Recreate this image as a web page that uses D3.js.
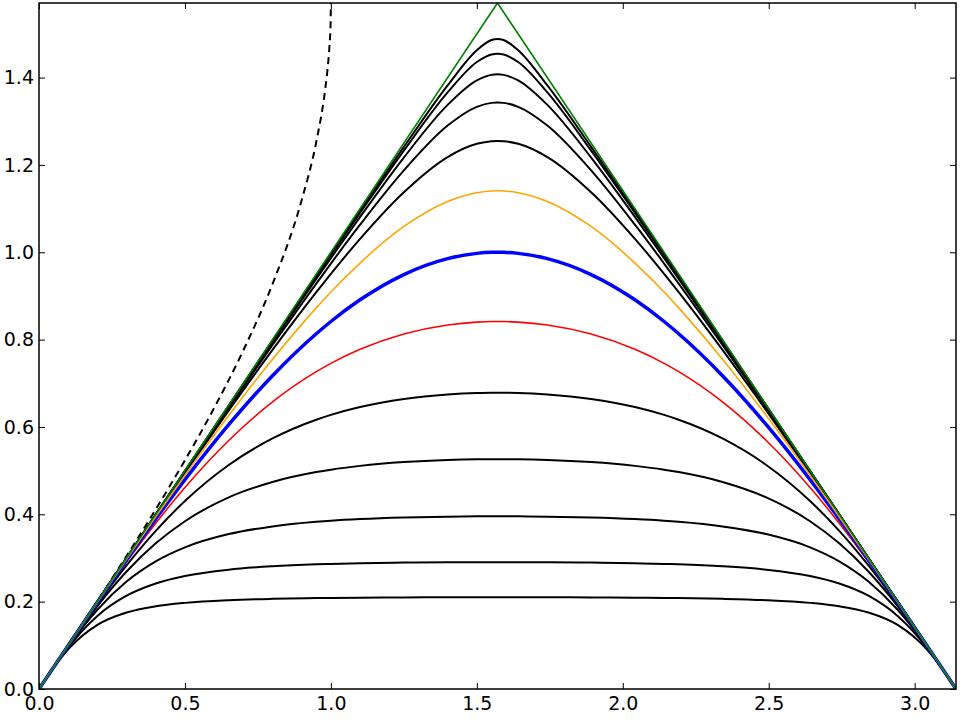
<!DOCTYPE html>
<html>
<head>
<meta charset="utf-8">
<script src="https://cdn.jsdelivr.net/npm/d3@7"></script>
<style>
  html, body { margin: 0; padding: 0; background: #fff; }
  svg { display: block; }
</style>
</head>
<body>
<div id="chart"></div>
<script>
// x sample points, 0 .. pi (symmetric about pi/2)
const xs = [0, 0.05, 0.1, 0.2, 0.3, 0.4, 0.5, 0.65, 0.8, 0.95, 1.0, 1.1, 1.25, 1.4, 1.5, 1.55, 1.5708,
  1.5916, 1.6416, 1.7416, 1.8916, 2.0416, 2.1416, 2.1916, 2.3416, 2.4916, 2.6416, 2.7416, 2.8416, 2.9416, 3.0416, 3.0916, 3.1416]

// curves under sin (black)
const sin64 = [0, 0.0487, 0.0908, 0.1467, 0.1750, 0.1894, 0.1972, 0.2034, 0.2065, 0.2082, 0.2086, 0.2092, 0.2097, 0.2100, 0.2101, 0.2101, 0.2101,
  0.2101, 0.2101, 0.2100, 0.2097, 0.2092, 0.2086, 0.2082, 0.2065, 0.2034, 0.1972, 0.1894, 0.1750, 0.1467, 0.0908, 0.0487, 0]
const sin32 = [0, 0.0493, 0.0951, 0.1673, 0.2136, 0.2417, 0.2588, 0.2733, 0.2810, 0.2854, 0.2864, 0.2879, 0.2894, 0.2902, 0.2904, 0.2904, 0.2904,
  0.2904, 0.2904, 0.2902, 0.2894, 0.2879, 0.2864, 0.2854, 0.2810, 0.2733, 0.2588, 0.2417, 0.2136, 0.1673, 0.0951, 0.0493, 0]
const sin16 = [0, 0.0497, 0.0974, 0.1815, 0.2460, 0.2922, 0.3243, 0.3547, 0.3723, 0.3827, 0.3852, 0.3890, 0.3927, 0.3947, 0.3953, 0.3954, 0.3954,
  0.3954, 0.3953, 0.3947, 0.3927, 0.3890, 0.3852, 0.3827, 0.3723, 0.3547, 0.3243, 0.2922, 0.2460, 0.1815, 0.0974, 0.0497, 0]
const sin8 = [0, 0.0498, 0.0987, 0.1900, 0.2690, 0.3335, 0.3842, 0.4387, 0.4740, 0.4967, 0.5022, 0.5109, 0.5197, 0.5245, 0.5259, 0.5261, 0.5261,
  0.5261, 0.5259, 0.5245, 0.5197, 0.5109, 0.5022, 0.4967, 0.4740, 0.4387, 0.3842, 0.3335, 0.2690, 0.1900, 0.0987, 0.0498, 0]
const sin4 = [0, 0.0499, 0.0993, 0.1948, 0.2832, 0.3622, 0.4305, 0.5130, 0.5737, 0.6166, 0.6276, 0.6455, 0.6641, 0.6745, 0.6778, 0.6784, 0.6784,
  0.6784, 0.6778, 0.6745, 0.6641, 0.6455, 0.6276, 0.6166, 0.5737, 0.5130, 0.4305, 0.3622, 0.2832, 0.1948, 0.0993, 0.0499, 0]
// red
const sin2 = [0, 0.0500, 0.0997, 0.1974, 0.2912, 0.3797, 0.4613, 0.5689, 0.6574, 0.7266, 0.7456, 0.7778, 0.8128, 0.8335, 0.8401, 0.8414, 0.8415,
  0.8414, 0.8401, 0.8335, 0.8128, 0.7778, 0.7456, 0.7266, 0.6574, 0.5689, 0.4613, 0.3797, 0.2912, 0.1974, 0.0997, 0.0500, 0]
// blue
const sin1 = [0, 0.0500, 0.0998, 0.1987, 0.2955, 0.3894, 0.4794, 0.6052, 0.7174, 0.8134, 0.8415, 0.8912, 0.9490, 0.9854, 0.9975, 0.9998, 1.0,
  0.9998, 0.9975, 0.9854, 0.9490, 0.8912, 0.8415, 0.8134, 0.7174, 0.6052, 0.4794, 0.3894, 0.2955, 0.1987, 0.0998, 0.0500, 0]
// orange
const sinHalf = [0, 0.0500, 0.0999, 0.1993, 0.2977, 0.3946, 0.4894, 0.6263, 0.7550, 0.8727, 0.9090, 0.9753, 1.0591, 1.1165, 1.1365, 1.1404, 1.1408,
  1.1404, 1.1365, 1.1165, 1.0591, 0.9753, 0.9090, 0.8727, 0.7550, 0.6263, 0.4894, 0.3946, 0.2977, 0.1993, 0.0999, 0.0500, 0]
// curves above (black)
const sinQuarter = [0, 0.0500, 0.1000, 0.1997, 0.2989, 0.3973, 0.4946, 0.6378, 0.7764, 0.9085, 0.9506, 1.0307, 1.1375, 1.2181, 1.2484, 1.2545, 1.2550,
  1.2545, 1.2484, 1.2181, 1.1375, 1.0307, 0.9506, 0.9085, 0.7764, 0.6378, 0.4946, 0.3973, 0.2989, 0.1997, 0.1000, 0.0500, 0]
const sinEighth = [0, 0.0500, 0.1000, 0.1998, 0.2994, 0.3987, 0.4973, 0.6438, 0.7879, 0.9284, 0.9742, 1.0631, 1.1875, 1.2902, 1.3331, 1.3421, 1.3429,
  1.3421, 1.3331, 1.2902, 1.1875, 1.0631, 0.9742, 0.9284, 0.7879, 0.6438, 0.4973, 0.3987, 0.2994, 0.1998, 0.1000, 0.0500, 0]
const sin16th = [0, 0.0500, 0.1000, 0.1999, 0.2997, 0.3993, 0.4987, 0.6469, 0.7939, 0.9390, 0.9867, 1.0809, 1.2169, 1.3375, 1.3936, 1.4062, 1.4075,
  1.4062, 1.3936, 1.3375, 1.2169, 1.0809, 0.9867, 0.9390, 0.7939, 0.6469, 0.4987, 0.3993, 0.2997, 0.1999, 0.1000, 0.0500, 0]
const sin32nd = [0, 0.0500, 0.1000, 0.2000, 0.2999, 0.3997, 0.4993, 0.6484, 0.7969, 0.9444, 0.9933, 1.0901, 1.2328, 1.3660, 1.4356, 1.4530, 1.4548,
  1.4530, 1.4356, 1.3660, 1.2328, 1.0901, 0.9933, 0.9444, 0.7969, 0.6484, 0.4993, 0.3997, 0.2999, 0.2000, 0.1000, 0.0500, 0]
const sin64th = [0, 0.0500, 0.1000, 0.2000, 0.2999, 0.3998, 0.4997, 0.6492, 0.7985, 0.9472, 0.9966, 1.0949, 1.2412, 1.3821, 1.4627, 1.4860, 1.4886,
  1.4860, 1.4627, 1.3821, 1.2412, 1.0949, 0.9966, 0.9472, 0.7985, 0.6492, 0.4997, 0.3998, 0.2999, 0.2000, 0.1000, 0.0500, 0]

// dashed curve (arcsin)
const dashX = [0, 0.1, 0.2, 0.3, 0.4, 0.5, 0.6, 0.7, 0.8, 0.9, 0.95, 0.98, 0.99, 0.995, 0.999, 1.0]
const dashY = [0, 0.1002, 0.2014, 0.3047, 0.4115, 0.5236, 0.6435, 0.7754, 0.9273, 1.1198, 1.2532, 1.3705, 1.4293, 1.4706, 1.5261, 1.5708]

// green triangle
const triX = [0, 1.5708, 3.1416]
const triY = [0, 1.5708, 0]

const xTicks = [0, 0.5, 1.0, 1.5, 2.0, 2.5, 3.0]
const yTicks = [0, 0.2, 0.4, 0.6, 0.8, 1.0, 1.2, 1.4]

const width = 960
const height = 720
const margin = { top: 3, right: 4, bottom: 31, left: 39 }

const svg = d3.select("#chart")
  .append("svg")
  .attr("width", width)
  .attr("height", height)
  .style("font-family", "'DejaVu Sans', sans-serif")

const x = d3.scaleLinear()
  .domain([0, Math.PI])
  .range([margin.left, width - margin.right])

const y = d3.scaleLinear()
  .domain([0, Math.PI / 2])
  .range([height - margin.bottom, margin.top])

svg.append("defs").append("clipPath")
  .attr("id", "plot-clip")
  .append("rect")
  .attr("x", margin.left)
  .attr("y", margin.top)
  .attr("width", width - margin.left - margin.right)
  .attr("height", height - margin.top - margin.bottom)

const plot = svg.append("g").attr("clip-path", "url(#plot-clip)")

const line = d3.line()
  .x(d => x(d[0]))
  .y(d => y(d[1]))
  .curve(d3.curveMonotoneX)

const pairs = (xv, yv) => xv.map((v, i) => [v, yv[i]])

const blacks = [sin64, sin32, sin16, sin8, sin4, sinQuarter, sinEighth, sin16th, sin32nd, sin64th]

plot.selectAll(".black")
  .data(blacks)
  .join("path")
  .attr("class", "black")
  .attr("fill", "none")
  .attr("stroke", "#000")
  .attr("stroke-width", 2)
  .attr("d", d => line(pairs(xs, d)))

plot.append("path")
  .attr("fill", "none")
  .attr("stroke", "#000")
  .attr("stroke-width", 2)
  .attr("stroke-dasharray", "7,5")
  .attr("d", line(pairs(dashX, dashY)))

plot.append("path")
  .attr("fill", "none")
  .attr("stroke", "#ff0000")
  .attr("stroke-width", 1.6)
  .attr("d", line(pairs(xs, sin2)))

plot.append("path")
  .attr("fill", "none")
  .attr("stroke", "#0000ff")
  .attr("stroke-width", 3.5)
  .attr("d", line(pairs(xs, sin1)))

plot.append("path")
  .attr("fill", "none")
  .attr("stroke", "#ffa500")
  .attr("stroke-width", 1.6)
  .attr("d", line(pairs(xs, sinHalf)))

plot.append("path")
  .attr("fill", "none")
  .attr("stroke", "#008000")
  .attr("stroke-width", 1.6)
  .attr("d", d3.line().x(d => x(d[0])).y(d => y(d[1]))(pairs(triX, triY)))

// Axes (ticks point inward on all four sides)
const fmt = d3.format(".1f")

const styleAxis = g => {
  g.select(".domain").remove()
  g.selectAll(".tick line").attr("stroke", "#000").attr("stroke-width", 1)
  g.selectAll(".tick text").attr("fill", "#000").style("font-size", "19px").style("font-family", "'DejaVu Sans', sans-serif")
}

svg.append("g")
  .attr("transform", `translate(0,${height - margin.bottom})`)
  .call(d3.axisBottom(x).tickValues(xTicks).tickFormat(fmt).tickSizeInner(-6).tickSizeOuter(0).tickPadding(8))
  .call(styleAxis)

svg.append("g")
  .attr("transform", `translate(0,${margin.top})`)
  .call(d3.axisTop(x).tickValues(xTicks).tickFormat("").tickSizeInner(-6).tickSizeOuter(0))
  .call(styleAxis)

svg.append("g")
  .attr("transform", `translate(${margin.left},0)`)
  .call(d3.axisLeft(y).tickValues(yTicks).tickFormat(fmt).tickSizeInner(-6).tickSizeOuter(0).tickPadding(5))
  .call(styleAxis)

svg.append("g")
  .attr("transform", `translate(${width - margin.right},0)`)
  .call(d3.axisRight(y).tickValues(yTicks).tickFormat("").tickSizeInner(-6).tickSizeOuter(0))
  .call(styleAxis)

// Frame
svg.append("rect")
  .attr("x", margin.left)
  .attr("y", margin.top)
  .attr("width", width - margin.left - margin.right)
  .attr("height", height - margin.top - margin.bottom)
  .attr("fill", "none")
  .attr("stroke", "#000")
  .attr("stroke-width", 1.5)
</script>
</body>
</html>
